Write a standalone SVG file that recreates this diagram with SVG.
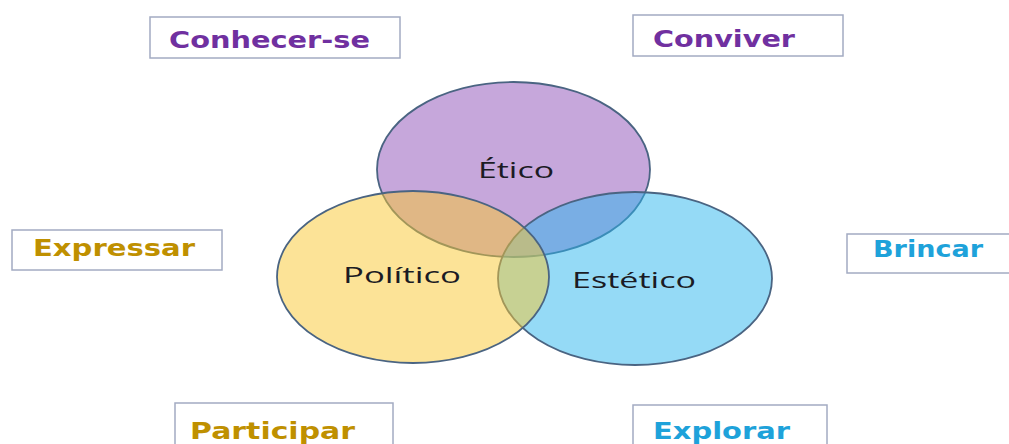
<svg xmlns="http://www.w3.org/2000/svg" width="1009" height="444" viewBox="0 0 1009 444">
<style>
.box{fill:#ffffff;stroke:#a3abc2;stroke-width:1.5}
.lbl{font-family:"DejaVu Sans","Liberation Sans",sans-serif;font-weight:bold;font-size:23px}
.pur{fill:#7030a0}
.gold{fill:#bf9000}
.blue{fill:#1ea2da}
.ring{stroke:#4a6482;stroke-width:1.8}
.ct{font-family:"Open Sans","Liberation Sans",sans-serif;font-size:21px;fill:#1b1b24;text-anchor:middle}
</style>
<rect width="1009" height="444" fill="#ffffff"/>
<g id="venn">
<g id="etico">
<ellipse class="ring" cx="513.5" cy="169.5" rx="136.5" ry="87.5" fill="#8e4fb8" fill-opacity="0.5"/>
</g>
<g id="estetico">
<ellipse class="ring" cx="635" cy="278.5" rx="137" ry="86.5" fill="#2bb5ee" fill-opacity="0.5"/>
</g>
<g id="politico">
<ellipse class="ring" cx="413" cy="277" rx="136" ry="86" fill="#f9c82f" fill-opacity="0.5"/>
</g>
<text class="ct" x="516" y="178" textLength="76" lengthAdjust="spacingAndGlyphs">Ético</text>
<text class="ct" x="402" y="283" textLength="118" lengthAdjust="spacingAndGlyphs">Político</text>
<text class="ct" x="634" y="288" textLength="124" lengthAdjust="spacingAndGlyphs">Estético</text>
</g>
<g id="conhecer-se">
<rect class="box" x="150" y="17" width="250" height="41"/>
<text class="lbl pur" x="169" y="48" textLength="201" lengthAdjust="spacingAndGlyphs">Conhecer-se</text>
</g>
<g id="conviver">
<rect class="box" x="633" y="15" width="210" height="41"/>
<text class="lbl pur" x="653" y="47" textLength="142" lengthAdjust="spacingAndGlyphs">Conviver</text>
</g>
<g id="expressar">
<rect class="box" x="12" y="230" width="210" height="40"/>
<text class="lbl gold" x="33" y="256" textLength="162" lengthAdjust="spacingAndGlyphs">Expressar</text>
</g>
<g id="brincar">
<rect class="box" x="847" y="234" width="170" height="39"/>
<text class="lbl blue" x="873" y="257" textLength="110" lengthAdjust="spacingAndGlyphs">Brincar</text>
</g>
<g id="participar">
<rect class="box" x="175" y="403" width="218" height="50"/>
<text class="lbl gold" x="190" y="439" textLength="165" lengthAdjust="spacingAndGlyphs">Participar</text>
</g>
<g id="explorar">
<rect class="box" x="633" y="405" width="194" height="50"/>
<text class="lbl blue" x="653" y="439" textLength="137" lengthAdjust="spacingAndGlyphs">Explorar</text>
</g>
</svg>
